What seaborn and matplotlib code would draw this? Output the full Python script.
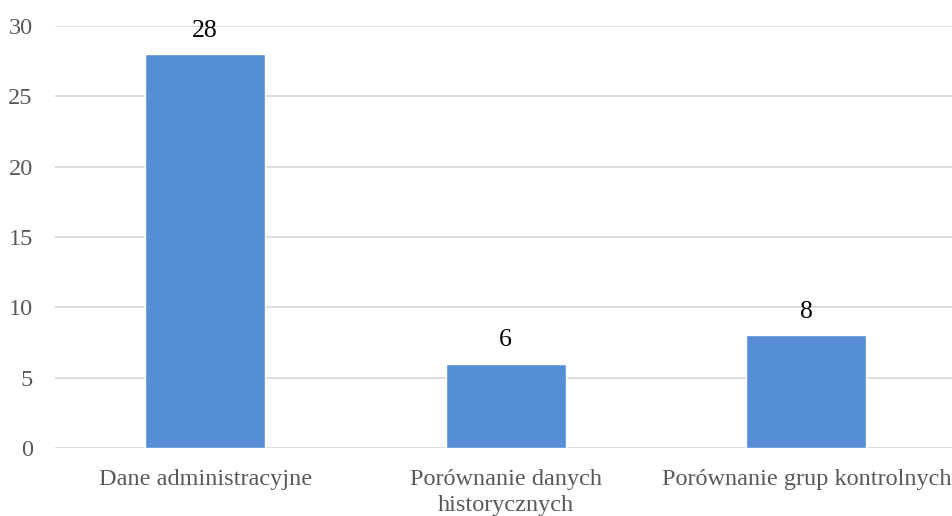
import matplotlib
matplotlib.use("Agg")
import matplotlib.pyplot as plt
import seaborn as sns
import pandas as pd

categories = ["Dane administracyjne", "Porównanie danych\nhistorycznych", "Porównanie grup kontrolnych"]
values = [28, 6, 8]
y_ticks = [0, 5, 10, 15, 20, 25, 30]

sns.set_theme(style="white")
plt.rcParams["font.family"] = ["Liberation Serif", "DejaVu Serif"]

df = pd.DataFrame({"kategoria": categories, "liczba": values})

fig = plt.figure(figsize=(9.53, 5.16), dpi=100)
ax = fig.add_axes([0.0577, 0.1318, 0.946, 0.8178])

sns.barplot(data=df, x="kategoria", y="liczba", color="#558ED5", saturation=1,
            width=0.4, ax=ax, zorder=3)

ax.set_ylim(0, 30)
ax.set_yticks(y_ticks)
ax.set_xlim(-0.5, 2.5)
ax.grid(axis="y", color="#D9D9D9", linewidth=1.3, zorder=0)
ax.set_axisbelow(True)
for s in ax.spines.values():
    s.set_visible(False)
ax.set_xlabel("")
ax.set_ylabel("")
ax.tick_params(axis="both", length=0, labelsize=17.5, labelcolor="#595959")
ax.tick_params(axis="y", pad=16)
ax.tick_params(axis="x", pad=15)
for lbl in ax.get_xticklabels():
    lbl.set_linespacing(1.3)

ax.bar_label(ax.containers[0], labels=[str(v) for v in values], padding=9,
             fontsize=18.5, color="black")

fig.savefig("out.png", dpi=100)
